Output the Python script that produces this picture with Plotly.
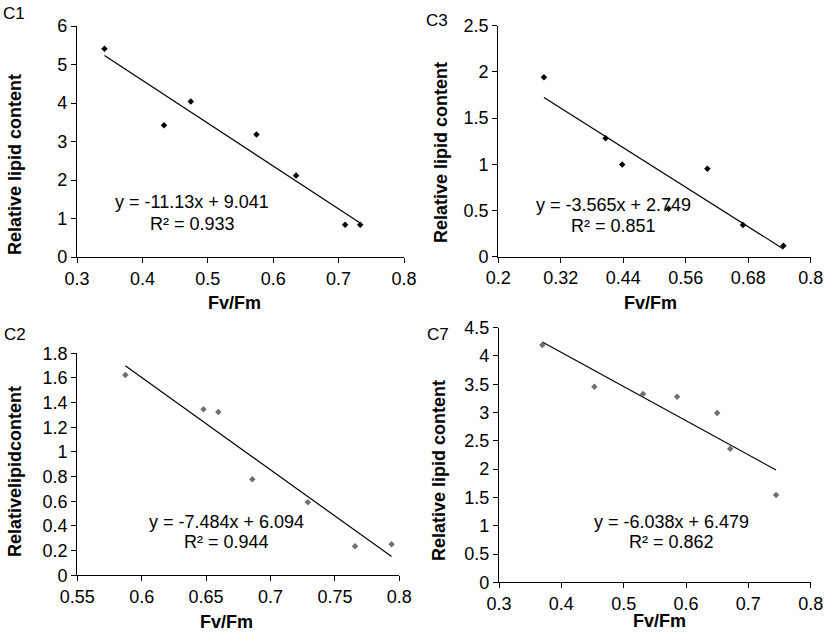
import plotly.graph_objects as go

W, H = 827, 634

# ---- data ----
c1_x = [0.342, 0.433, 0.474, 0.5745, 0.635, 0.710, 0.733]
c1_y = [5.41, 3.42, 4.04, 3.18, 2.12, 0.84, 0.84]
c1_slope, c1_int = -11.13, 9.041

c3_x = [0.2877, 0.406, 0.438, 0.527, 0.6015, 0.670, 0.7475]
c3_y = [1.941, 1.281, 0.999, 0.52, 0.952, 0.343, 0.119]
c3_slope, c3_int = -3.565, 2.749

c2_x = [0.5873, 0.648, 0.6595, 0.6859, 0.729, 0.7656, 0.794]
c2_y = [1.624, 1.346, 1.324, 0.778, 0.592, 0.235, 0.251]
c2_slope, c2_int = -7.484, 6.094

c7_x = [0.3695, 0.453, 0.531, 0.5856, 0.650, 0.671, 0.7444]
c7_y = [4.194, 3.457, 3.328, 3.281, 2.992, 2.362, 1.543]
c7_slope, c7_int = -6.038, 6.479

c1_xticks = [0.3, 0.4, 0.5, 0.6, 0.7, 0.8]
c1_xtext = ["0.3", "0.4", "0.5", "0.6", "0.7", "0.8"]
c1_yticks = [0, 1, 2, 3, 4, 5, 6]
c1_ytext = ["0", "1", "2", "3", "4", "5", "6"]

c3_xticks = [0.2, 0.32, 0.44, 0.56, 0.68, 0.8]
c3_xtext = ["0.2", "0.32", "0.44", "0.56", "0.68", "0.8"]
c3_yticks = [0, 0.5, 1, 1.5, 2, 2.5]
c3_ytext = ["0", "0.5", "1", "1.5", "2", "2.5"]

c2_xticks = [0.55, 0.6, 0.65, 0.7, 0.75, 0.8]
c2_xtext = ["0.55", "0.6", "0.65", "0.7", "0.75", "0.8"]
c2_yticks = [0, 0.2, 0.4, 0.6, 0.8, 1.0, 1.2, 1.4, 1.6, 1.8]
c2_ytext = ["0", "0.2", "0.4", "0.6", "0.8", "1", "1.2", "1.4", "1.6", "1.8"]

c7_xticks = [0.3, 0.4, 0.5, 0.6, 0.7, 0.8]
c7_xtext = ["0.3", "0.4", "0.5", "0.6", "0.7", "0.8"]
c7_yticks = [0, 0.5, 1, 1.5, 2, 2.5, 3, 3.5, 4, 4.5]
c7_ytext = ["0", "0.5", "1", "1.5", "2", "2.5", "3", "3.5", "4", "4.5"]

FONT = "Liberation Sans, Arial, sans-serif"
FS = 18


def px_x(p):
    return p / W


def px_y(p):
    return 1 - p / H


panels = [
    dict(name="C1", x=c1_x, y=c1_y, m=c1_slope, b=c1_int, xt=c1_xticks, xtt=c1_xtext,
         yt=c1_yticks, ytt=c1_ytext, xr=[0.3, 0.8], yr=[0, 6],
         dom=(77, 404, 26, 257), col="black",
         eq="y = -11.13x + 9.041", r2="R² = 0.933", eqpos=(192, 202, 224),
         ytitle="Relative lipid content", ytpos=(15, 165), xtpos=(234, 303), lab=(14, 14)),
    dict(name="C3", x=c3_x, y=c3_y, m=c3_slope, b=c3_int, xt=c3_xticks, xtt=c3_xtext,
         yt=c3_yticks, ytt=c3_ytext, xr=[0.2, 0.8], yr=[0, 2.5],
         dom=(498.3, 810.7, 25.7, 256.7), col="black",
         eq="y = -3.565x + 2.749", r2="R² = 0.851", eqpos=(613, 205, 226),
         ytitle="Relative lipid content", ytpos=(441, 153), xtpos=(650, 303), lab=(437, 20)),
    dict(name="C2", x=c2_x, y=c2_y, m=c2_slope, b=c2_int, xt=c2_xticks, xtt=c2_xtext,
         yt=c2_yticks, ytt=c2_ytext, xr=[0.55, 0.8], yr=[0, 1.8],
         dom=(77.3, 399.3, 353.3, 575.3), col="#707070",
         eq="y = -7.484x + 6.094", r2="R² = 0.944", eqpos=(226, 522, 542),
         ytitle="Relativelipidcontent", ytpos=(15, 472), xtpos=(226, 622), lab=(15, 334)),
    dict(name="C7", x=c7_x, y=c7_y, m=c7_slope, b=c7_int, xt=c7_xticks, xtt=c7_xtext,
         yt=c7_yticks, ytt=c7_ytext, xr=[0.3, 0.8], yr=[0, 4.5],
         dom=(499, 810.7, 327.7, 582.3), col="#707070",
         eq="y = -6.038x + 6.479", r2="R² = 0.862", eqpos=(671, 522, 542),
         ytitle="Relative lipid content", ytpos=(439, 471), xtpos=(659, 621), lab=(438, 334)),
]

fig = go.Figure()
annotations = []
layout_axes = {}

for i, p in enumerate(panels, start=1):
    xa = "x" if i == 1 else f"x{i}"
    ya = "y" if i == 1 else f"y{i}"
    # trendline
    lx = [min(p["x"]), max(p["x"])]
    ly = [p["m"] * v + p["b"] for v in lx]
    fig.add_trace(go.Scatter(x=lx, y=ly, mode="lines", line=dict(color="black", width=1.2),
                             xaxis=xa, yaxis=ya, showlegend=False, hoverinfo="skip",
                             cliponaxis=False))
    fig.add_trace(go.Scatter(x=p["x"], y=p["y"], mode="markers",
                             marker=dict(symbol="diamond", size=5, color=p["col"]),
                             xaxis=xa, yaxis=ya, showlegend=False, cliponaxis=False))
    x0, x1, y0, y1 = p["dom"]
    axcommon = dict(showgrid=False, zeroline=False, showline=True, linecolor="black",
                    linewidth=1.2, ticks="outside", ticklen=5, tickwidth=1.2,
                    tickcolor="black", automargin=False,
                    tickfont=dict(family=FONT, size=FS, color="black"))
    layout_axes["xaxis" if i == 1 else f"xaxis{i}"] = dict(
        domain=[px_x(x0), px_x(x1)], range=p["xr"], tickmode="array",
        tickvals=p["xt"], ticktext=p["xtt"], anchor=ya, **axcommon)
    layout_axes["yaxis" if i == 1 else f"yaxis{i}"] = dict(
        domain=[px_y(y1), px_y(y0)], range=p["yr"], tickmode="array",
        tickvals=p["yt"], ticktext=p["ytt"], anchor=xa, **axcommon)

    ex, ey, ry = p["eqpos"]
    annotations.append(dict(text=p["eq"], x=px_x(ex), y=px_y(ey), xref="paper", yref="paper",
                            showarrow=False, xanchor="center", yanchor="middle",
                            font=dict(family=FONT, size=FS, color="black")))
    annotations.append(dict(text=p["r2"], x=px_x(ex), y=px_y(ry), xref="paper", yref="paper",
                            showarrow=False, xanchor="center", yanchor="middle",
                            font=dict(family=FONT, size=FS, color="black")))
    tx, ty = p["ytpos"]
    annotations.append(dict(text=f"<b>{p['ytitle']}</b>", x=px_x(tx), y=px_y(ty),
                            xref="paper", yref="paper", showarrow=False, textangle=-90,
                            xanchor="center", yanchor="middle",
                            font=dict(family=FONT, size=FS, color="black")))
    fx, fy = p["xtpos"]
    annotations.append(dict(text="<b>Fv/Fm</b>", x=px_x(fx), y=px_y(fy), xref="paper",
                            yref="paper", showarrow=False, xanchor="center", yanchor="middle",
                            font=dict(family=FONT, size=FS, color="black")))
    lx_, ly_ = p["lab"]
    annotations.append(dict(text=p["name"], x=px_x(lx_), y=px_y(ly_), xref="paper",
                            yref="paper", showarrow=False, xanchor="center", yanchor="middle",
                            font=dict(family=FONT, size=17, color="black")))

fig.update_layout(width=W, height=H, margin=dict(l=0, r=0, t=0, b=0),
                  paper_bgcolor="white", plot_bgcolor="white",
                  annotations=annotations, **layout_axes)

fig.write_html("out.html", config={"displayModeBar": False},
               post_script="document.body.style.margin='0';document.body.style.overflow='hidden';")
